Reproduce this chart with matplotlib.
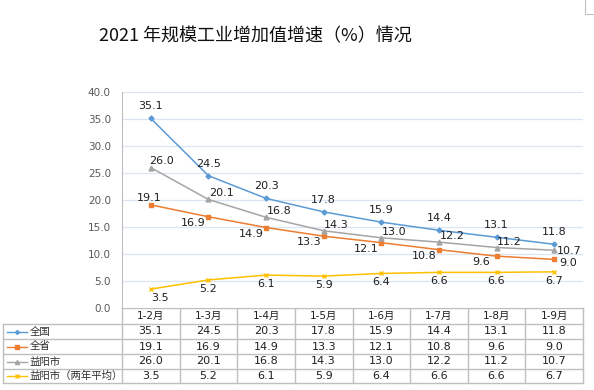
import matplotlib.pyplot as plt
from matplotlib.lines import Line2D

plt.rcParams['font.family'] = ['DejaVu Sans', 'Noto Sans CJK SC']

months = ["1-2月", "1-3月", "1-4月", "1-5月", "1-6月", "1-7月", "1-8月", "1-9月"]
series_names = ["全国", "全省", "益阳市", "益阳市（两年平均）"]
national = [35.1, 24.5, 20.3, 17.8, 15.9, 14.4, 13.1, 11.8]
province = [19.1, 16.9, 14.9, 13.3, 12.1, 10.8, 9.6, 9.0]
yiyang = [26.0, 20.1, 16.8, 14.3, 13.0, 12.2, 11.2, 10.7]
yiyang_2yr = [3.5, 5.2, 6.1, 5.9, 6.4, 6.6, 6.6, 6.7]
yticks = [0, 5, 10, 15, 20, 25, 30, 35, 40]

all_series = [national, province, yiyang, yiyang_2yr]
colors = ["#5b9bd5", "#ed7d31", "#a5a5a5", "#ffc000"]
markers = ["D", "s", "^", "x"]
msizes = [2.5, 3.5, 3.5, 3]
# label offsets in pixels: default, then first / last overrides
offsets = [
    [(0, 12)] * 8,
    [(-2, 7)] + [(-15, -6)] * 6 + [(14, -4)],
    [(11, 7)] + [(13, 6)] * 6 + [(15, -1)],
    [(9, -9)] + [(0, -9)] * 7,
]

W, H = 594, 390
fig = plt.figure(figsize=(W / 100, H / 100), dpi=100)

# pixel layout of the plot area
left, right, top, bottom = 122, 583, 92, 308
ax = fig.add_axes([left / W, 1 - bottom / H, (right - left) / W, (bottom - top) / H])

x = list(range(len(months)))
for vals, c, m, ms, offs in zip(all_series, colors, markers, msizes, offsets):
    ax.plot(x, vals, color=c, lw=1.1, marker=m, ms=ms, mec=c, mfc=c, mew=1)
    for xi, v, (dx, dy) in zip(x, vals, offs):
        ax.annotate(f"{v:.1f}", (xi, v), xytext=(dx, dy), textcoords="offset pixels",
                    ha="center", va="center", fontsize=8, color="#202020")

ax.set_xlim(-0.5, len(months) - 0.5)
ax.set_ylim(0, 40)
ax.set_yticks(yticks)
ax.set_yticklabels([f"{t:.1f}" for t in yticks], fontsize=7.5, color="#595959")
ax.set_xticks([])
ax.tick_params(axis="y", length=0, pad=8)
ax.grid(axis="y", color="#dce6f2", lw=0.9)
ax.set_axisbelow(True)
for s in ["top", "right", "bottom"]:
    ax.spines[s].set_visible(False)
ax.spines["left"].set_color("#bfbfbf")

# data table under the plot, drawn in pixel coordinates
tab = fig.add_axes([0, 0, 1, 1], zorder=-1)
tab.set_xlim(0, W)
tab.set_ylim(H, 0)
tab.axis("off")

tcol = "#bfbfbf"
tx0 = 3
cw = (right - left) / len(months)
row_tops = [308, 324, 339, 354, 369, 383]
col_edges = [left + i * cw for i in range(len(months) + 1)]

# header row
tab.plot([left, right], [row_tops[0], row_tops[0]], color=tcol, lw=1)
for xe in col_edges:
    tab.plot([xe, xe], [row_tops[0], row_tops[-1]], color=tcol, lw=1)
for i, mth in enumerate(months):
    tab.text(left + (i + 0.5) * cw, (row_tops[0] + row_tops[1]) / 2, mth,
             ha="center", va="center", fontsize=7.5, color="#202020")
# body rows
for yl in row_tops[1:]:
    tab.plot([tx0, right], [yl, yl], color=tcol, lw=1)
tab.plot([tx0, tx0], [row_tops[1], row_tops[-1]], color=tcol, lw=1)

for r, (name, vals, c, m, ms) in enumerate(zip(series_names, all_series, colors, markers, msizes)):
    yc = (row_tops[r + 1] + row_tops[r + 2]) / 2
    tab.add_line(Line2D([7, 27], [yc, yc], color=c, lw=1))
    tab.plot([17], [yc], marker=m, ms=ms - 0.5, color=c, mec=c)
    tab.text(30, yc, name, ha="left", va="center", fontsize=7.5, color="#303030")
    for i, v in enumerate(vals):
        tab.text(left + (i + 0.5) * cw, yc, f"{v:.1f}", ha="center", va="center",
                 fontsize=8, color="#202020")

# corner mark at top right
tab.plot([585, 585, 594], [0, 14, 14], color="#c0c0c0", lw=0.8)

fig.text(255 / W, 1 - 36 / H, "2021 年规模工业增加值增速（%）情况", ha="center", va="center",
         fontsize=13, family=["Noto Sans CJK SC", "DejaVu Sans"], color="#101010")

fig.savefig("out.png", dpi=100)
